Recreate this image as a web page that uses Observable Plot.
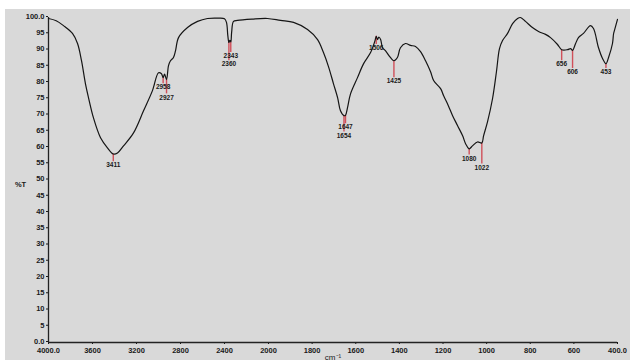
<!DOCTYPE html>
<html><head><meta charset="utf-8">
<script src="https://cdn.jsdelivr.net/npm/d3@7"></script>
<script src="https://cdn.jsdelivr.net/npm/@observablehq/plot@0.6"></script>
<style>
html,body{margin:0;padding:0;background:#fff;width:630px;height:360px;overflow:hidden}
#bg{position:absolute;left:5px;top:9px;width:625px;height:351px;background:#d9d9d9}
#chart{position:absolute;left:0;top:0}
</style></head><body><div id="bg"></div><div id="chart"></div>
<script>
const wavenumber = [4000,3930,3864,3782,3736,3700,3664,3636,3591,3527,3464,3411,3373,3318,3227,3136,3055,3000,2973,2958,2945,2927,2909,2891,2864,2845,2818,2736,2645,2555,2450,2400,2382,2370,2360,2352,2343,2335,2318,2282,2150,2009,1945,1885,1821,1775,1748,1725,1702,1683,1670,1654,1647,1638,1624,1592,1564,1532,1519,1512,1506,1500,1494,1486,1477,1464,1441,1425,1409,1395,1372,1349,1326,1303,1280,1257,1243,1211,1197,1175,1156,1133,1110,1096,1080,1065,1042,1022,1014,996,973,955,941,927,904,881,858,845,822,790,762,730,707,675,656,629,615,606,592,579,556,524,510,487,468,453,441,423,418,412,400];
const transmittance = [99.7,99.0,97.5,95.1,92.0,86.7,79.6,75.3,69.1,63.0,59.9,58.0,58.3,60.5,64.5,71.3,77.5,83.0,82.7,81.5,82.6,80.9,85.2,86.7,87.7,89.8,93.8,96.9,98.8,99.7,99.8,99.6,98.5,94.5,92.3,93.0,92.5,95.5,98.8,99.1,99.5,99.7,99.1,98.5,96.3,93.2,89.2,84.9,79.6,75.3,71.3,69.8,69.9,72.2,76.5,81.5,85.8,89.2,91.4,92.8,94.2,93.2,94.0,93.2,90.7,89.8,87.7,86.7,87.7,90.7,92.0,91.4,91.1,89.5,86.7,83.3,80.6,78.1,75.9,72.8,69.8,66.7,63.6,61.1,59.6,60.5,61.7,61.4,63.6,67.9,75.0,83.3,90.4,92.9,95.1,98.1,99.7,100.0,98.8,96.9,95.7,94.8,93.8,91.7,90.1,90.1,90.4,89.9,92.0,93.8,95.1,97.5,96.6,90.7,87.3,85.8,87.7,92.0,95.0,96.5,99.4];

const peakWavenumber = [3411,2958,2927,2360,2343,1654,1647,1506,1425,1080,1022,656,606,453];
const peakTransmittance = [58.0,81.5,80.9,92.3,92.5,69.8,69.9,94.2,86.7,59.6,61.4,90.1,89.9,85.8];
const peakLabelLevel = [55.6,79.6,76.5,86.7,89.2,64.8,67.3,91.7,81.5,57.7,54.9,86.7,84.3,84.3];

const xTicks = [4000,3600,3200,2800,2400,2000,1800,1600,1400,1200,1000,800,600,400];
const xTickLabels = ["4000.0","3600","3200","2800","2400","2000","1800","1600","1400","1200","1000","800","600","400.0"];
const yTicks = [0,5,10,15,20,25,30,35,40,45,50,55,60,65,70,75,80,85,90,95,100];
const yTickLabels = ["0.0","5","10","15","20","25","30","35","40","45","50","55","60","65","70","75","80","85","90","95","100.0"];
const yTitle = "%T";
const xTitle = "cm⁻¹";

const spectrum = wavenumber.map((w, i) => ({w, t: transmittance[i]}));
const peaks = peakWavenumber.map((w, i) => ({w, t: peakTransmittance[i], e: peakLabelLevel[i], label: String(w)}));

const chart = Plot.plot({
  width: 630, height: 360,
  marginLeft: 48, marginRight: 13, marginTop: 17, marginBottom: 18,
  style: {background: "transparent", fontFamily: "Liberation Sans", fontSize: "7.5px", color: "#1a1a1a", overflow: "visible"},
  x: {type: "linear", domain: [4000, 2000, 400], range: [48, 268, 617]},
  y: {type: "linear", domain: [0, 100]},
  marks: [
    Plot.axisX({ticks: xTicks, tickFormat: d => xTickLabels[xTicks.indexOf(d)], tickSize: 2, tickPadding: 3, label: null, fontSize: 7.5, fontWeight: "bold"}),
    Plot.axisY({ticks: yTicks, tickFormat: d => yTickLabels[yTicks.indexOf(d)], tickSize: 2, tickPadding: 2, dy: -1, label: null, fontSize: 7.5, fontWeight: "bold"}),
    Plot.ruleX([4000], {y1: 0, y2: 100, stroke: "#222", strokeWidth: 1.3}),
    Plot.ruleY([0], {x1: 4000, x2: 400, stroke: "#222", strokeWidth: 1.3}),
    Plot.ruleX(peaks, {x: "w", y1: "t", y2: "e", stroke: "#d0505a", strokeWidth: 1.4}),
    Plot.line(spectrum, {x: "w", y: "t", stroke: "#151515", strokeWidth: 1.2, curve: "catmull-rom"}),
    Plot.text(peaks, {x: "w", y: "e", text: "label", lineAnchor: "top", dy: 1, fontSize: 6.5, fontWeight: "bold", fill: "#1a1a1a"}),
    Plot.text([yTitle], {text: d => d, frameAnchor: "left", dx: -28, dy: 5, textAnchor: "middle", fontSize: 7.5, fontWeight: "bold"}),
    Plot.text([xTitle], {text: d => d, frameAnchor: "bottom", lineAnchor: "bottom", dy: 17, fontSize: 8})
  ]
});
document.getElementById("chart").appendChild(chart);
</script></body></html>
